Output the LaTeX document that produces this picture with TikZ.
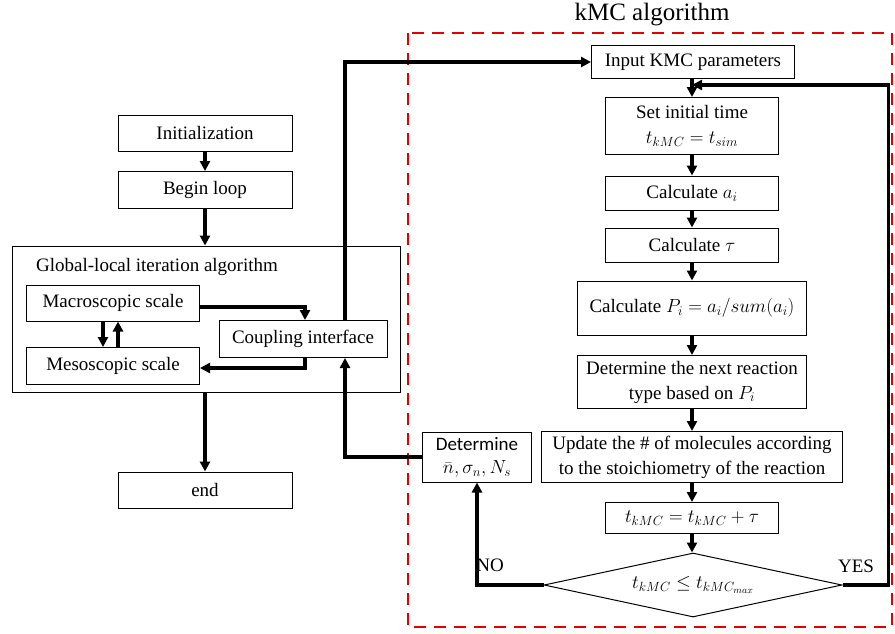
\RequirePackage{fix-cm}
\documentclass[tikz,border=0pt]{standalone}
\usepackage{fontspec}
\setmainfont{Liberation Serif}
\newfontfamily\calibfont{Carlito}
\usetikzlibrary{arrows.meta,shapes.geometric}
\newcommand\fsn{\fontsize{19}{25}\selectfont}
\begin{document}
\begin{tikzpicture}[x=1pt,y=-1pt,
  box/.style={draw, line width=1pt, inner sep=2pt, align=center, font=\fsn},
  arr/.style={line width=3.3pt, -{Triangle[length=10pt,width=10pt]}},
  lbl/.style={font=\fsn, inner sep=0pt}]
\useasboundingbox (0,0) rectangle (895,633);
% left part
\node[box, minimum width=174pt, minimum height=36pt] (init) at (205,133) {Initialization};
\node[box, minimum width=174pt, minimum height=37pt] (begin) at (205,190) {Begin loop};
\node[box, minimum width=388pt, minimum height=146pt] (glob) at (206,319) {};
\node[lbl, anchor=west] (globt) at (36,267) {Global-local iteration algorithm};
\node[box, minimum width=173pt, minimum height=36pt] (macro) at (113,303) {Macroscopic scale};
\node[box, minimum width=173pt, minimum height=37pt] (meso) at (113,366) {Mesoscopic scale};
\node[box, minimum width=168pt, minimum height=37pt] (coup) at (303,339) {Coupling interface};
\node[box, minimum width=174pt, minimum height=36pt] (end) at (205,490) {end};
% right part
\node[font=\fontsize{25}{28}\selectfont, inner sep=0pt] (title) at (652,15) {kMC algorithm};
\draw[red!90!black, line width=2.8pt, dash pattern=on 12pt off 8pt] (408,33) rectangle (892,627);
\node[box, minimum width=203pt, minimum height=33pt] (input) at (693,62) {Input KMC parameters};
\node[box, minimum width=173pt, minimum height=57pt] (set) at (692,126) {Set initial time\\$t_{kMC}=t_{sim}$};
\node[box, minimum width=173pt, minimum height=34pt] (ai) at (692,193) {Calculate $a_i$};
\node[box, minimum width=173pt, minimum height=34pt] (tau) at (692,245) {Calculate $\tau$};
\node[box, minimum width=229pt, minimum height=54pt] (pi) at (692,308) {Calculate $P_i=a_i/sum(a_i)$};
\node[box, minimum width=229pt, minimum height=53pt] (next) at (692,382) {Determine the next reaction\\type based on $P_i$};
\node[box, minimum width=301pt, minimum height=51pt] (upd) at (692,457) {Update the \# of molecules according\\to the stoichiometry of the reaction};
\node[box, minimum width=173pt, minimum height=31pt] (tup) at (692,518) {$t_{kMC}=t_{kMC}+\tau$};
\node[draw, line width=1pt, diamond, aspect=4.66, minimum width=298pt, minimum height=64pt, inner sep=0pt, font=\fsn] (dia) at (693,585) {$t_{kMC}\le t_{kMC_{max}}$};
\node[box, minimum width=109pt, minimum height=50pt, font=\fontsize{19}{23}\selectfont] (det) at (477,457) {\calibfont Determine\\$\bar{n},\sigma_n,N_s$};
\coordinate (ret) at (692,85);
\node[lbl] (no) at (490,565) {NO};
\node[lbl] (yes) at (856,566) {YES};
% connectors left
\draw[arr] (init) -- (begin);
\draw[arr] (begin.south) -- (begin.south |- glob.north);
\draw[arr] ([yshift=-4pt]macro.east) -| ([xshift=2pt]coup.north);
\draw[arr] ([xshift=-10pt]macro.south) -- ([xshift=-10pt]meso.north);
\draw[arr] ([xshift=5pt]meso.north) -- ([xshift=5pt]macro.south);
\draw[arr] ([xshift=2pt]coup.south) |- ([yshift=-2pt]meso.east);
\draw[arr] ([xshift=42pt]coup.north) |- (input.west);
\draw[arr] (det.west) -| ([xshift=42pt]coup.south);
\draw[arr] (glob.south -| begin.south) -- (end.north);
% connectors right
\draw[arr] (input.south -| set.north) -- (set.north);
\draw[arr] (set) -- (ai);
\draw[arr] (ai) -- (tau);
\draw[arr] (tau) -- (pi);
\draw[arr] (pi) -- (next);
\draw[arr] (next) -- (upd);
\draw[arr] (upd) -- (tup);
\draw[arr] (tup.south) -- (tup.south |- dia.north);
\draw[arr] (dia.east) -- ++(46,0) |- (ret);
\draw[arr] (dia.west) -| (det.south);
\end{tikzpicture}
\end{document}
